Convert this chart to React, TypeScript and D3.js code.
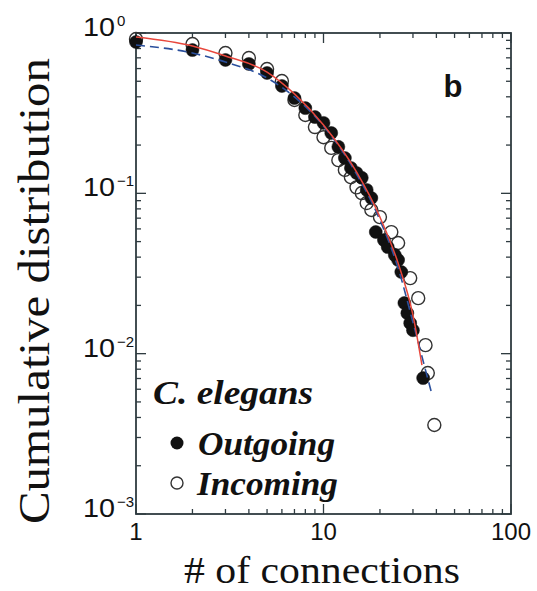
import React from "react";
import * as d3 from "d3";

// Outgoing connections (filled circles): degree k and cumulative distribution
const outK = [1, 2, 3, 4, 5, 6, 7, 8, 9, 10, 11, 12, 13, 14, 15, 16, 17, 18, 19, 21, 22, 24, 25, 26, 27, 28, 29, 30, 34];
const outP = [0.879, 0.783, 0.679, 0.641, 0.563, 0.467, 0.393, 0.34, 0.299, 0.275, 0.238, 0.195, 0.166, 0.144, 0.134, 0.125, 0.105, 0.0935, 0.0574, 0.0511, 0.0462, 0.0412, 0.0384, 0.0323, 0.0207, 0.0179, 0.0155, 0.014, 0.00704];

// Incoming connections (open circles)
const inK = [1, 2, 3, 4, 5, 6, 7, 8, 9, 10, 11, 12, 13, 14, 15, 16, 17, 18, 20, 23, 25, 29, 32, 35, 36, 39];
const inP = [0.917, 0.854, 0.75, 0.698, 0.596, 0.502, 0.382, 0.308, 0.259, 0.224, 0.192, 0.161, 0.14, 0.126, 0.109, 0.1004, 0.087, 0.0787, 0.0711, 0.0573, 0.049, 0.0296, 0.0222, 0.0113, 0.00757, 0.00359];

// Fit curves
const redK = [1, 2, 3, 5, 7, 10, 15, 20, 25, 30, 33.5];
const redP = [0.944, 0.83, 0.719, 0.571, 0.417, 0.267, 0.136, 0.0711, 0.0367, 0.0174, 0.00849];
const blueK = [1, 2, 3, 5, 7, 10, 15, 20, 25, 30, 35, 38];
const blueP = [0.841, 0.75, 0.659, 0.524, 0.399, 0.263, 0.132, 0.0681, 0.0342, 0.0157, 0.0079, 0.0055];

const xTickLabels = ["1", "10", "100"];
const xTickValues = [1, 10, 100];
const yTickValues = [1, 0.1, 0.01, 0.001];
const yTickExponents = ["0", "\u22121", "\u22122", "\u22123"];

export default function App() {
  const W = 537, H = 591;
  const L = 136, R = 511, T = 33, B = 514;
  const x = d3.scaleLog().domain([1, 100]).range([L, R]);
  const y = d3.scaleLog().domain([1e-3, 1]).range([B, T]);

  const isMajor = (v: number) => Math.abs(Math.log10(v) - Math.round(Math.log10(v))) < 1e-9;
  const xt = x.ticks();
  const yt = y.ticks();

  const line = d3
    .line<[number, number]>()
    .x((d) => x(d[0]))
    .y((d) => y(d[1]))
    .curve(d3.curveMonotoneX);

  const redPath = line(redK.map((k, i) => [k, redP[i]] as [number, number])) || "";
  const bluePath = line(blueK.map((k, i) => [k, blueP[i]] as [number, number])) || "";

  const frame = "#2f3b40";
  const serif = "'Liberation Serif', 'Times New Roman', serif";
  const sans = "'Liberation Sans', Arial, sans-serif";

  return (
    <svg width={W} height={H} style={{ position: "absolute", left: 0, top: 0, background: "#fff" }}>
      <rect x={0} y={0} width={W} height={H} fill="#fff" />
      {/* ticks */}
      <g stroke={frame} strokeWidth={1.3}>
        {xt.map((v, i) => {
          const len = isMajor(v) ? 10 : 5;
          const px = x(v);
          return (
            <g key={"xt" + i}>
              <line x1={px} x2={px} y1={B} y2={B - len} />
              <line x1={px} x2={px} y1={T} y2={T + len} />
            </g>
          );
        })}
        {yt.map((v, i) => {
          const len = isMajor(v) ? 10 : 5;
          const py = y(v);
          return (
            <g key={"yt" + i}>
              <line x1={L} x2={L + len} y1={py} y2={py} />
              <line x1={R} x2={R - len} y1={py} y2={py} />
            </g>
          );
        })}
      </g>
      <rect x={L} y={T} width={R - L} height={B - T} fill="none" stroke={frame} strokeWidth={1.8} />

      {/* x tick labels */}
      {xTickValues.map((v, i) => (
        <text key={"xl" + i} x={x(v)} y={540} textAnchor="middle" fontFamily={sans} fontSize={24} fill="#111">
          {xTickLabels[i]}
        </text>
      ))}
      {/* y tick labels */}
      {yTickValues.map((v, i) => (
        <g key={"yl" + i}>
          <text x={83} y={y(v) + 3} textAnchor="start" fontFamily={sans} fontSize={25} fill="#111" textLength={32} lengthAdjust="spacingAndGlyphs">
            10
          </text>
          <text x={117} y={y(v) - 7} textAnchor="start" fontFamily={sans} fontSize={15} fill="#111">
            {yTickExponents[i]}
          </text>
        </g>
      ))}

      {/* axis titles */}
      <text x={322} y={583} textAnchor="middle" fontFamily={serif} fontSize={38} fill="#111" textLength={276} lengthAdjust="spacingAndGlyphs">
        # of connections
      </text>
      <text
        transform={`translate(49, 291) rotate(-90)`}
        textAnchor="middle"
        fontFamily={serif}
        fontSize={44}
        fill="#111"
        textLength={466}
        lengthAdjust="spacingAndGlyphs"
      >
        Cumulative distribution
      </text>

      {/* panel label */}
      <text x={453} y={97} textAnchor="middle" fontFamily={sans} fontWeight="bold" fontSize={31} fill="#111">
        b
      </text>

      {/* data: incoming (open) */}
      {inK.map((k, i) => (
        <circle key={"in" + i} cx={x(k)} cy={y(inP[i])} r={6.5} fill="none" stroke="#333" strokeWidth={1.4} />
      ))}
      {/* data: outgoing (filled) */}
      {outK.map((k, i) => (
        <circle key={"out" + i} cx={x(k)} cy={y(outP[i])} r={6.5} fill="#111" stroke="#111" strokeWidth={0.5} />
      ))}

      {/* fits */}
      <path d={bluePath} fill="none" stroke="#2a4f9c" strokeWidth={1.6} strokeDasharray="9,5" />
      <path d={redPath} fill="none" stroke="#e8473c" strokeWidth={1.5} />

      {/* legend */}
      <text x={153} y={404} fontFamily={serif} fontStyle="italic" fontWeight="bold" fontSize={33} fill="#111" textLength={160} lengthAdjust="spacingAndGlyphs">
        C. elegans
      </text>
      <circle cx={177} cy={443} r={6.5} fill="#111" />
      <text x={198} y={455} fontFamily={serif} fontStyle="italic" fontWeight="bold" fontSize={33} fill="#111" textLength={137} lengthAdjust="spacingAndGlyphs">
        Outgoing
      </text>
      <circle cx={177} cy={483} r={6} fill="none" stroke="#333" strokeWidth={1.4} />
      <text x={197} y={495} fontFamily={serif} fontStyle="italic" fontWeight="bold" fontSize={33} fill="#111" textLength={141} lengthAdjust="spacingAndGlyphs">
        Incoming
      </text>
    </svg>
  );
}
